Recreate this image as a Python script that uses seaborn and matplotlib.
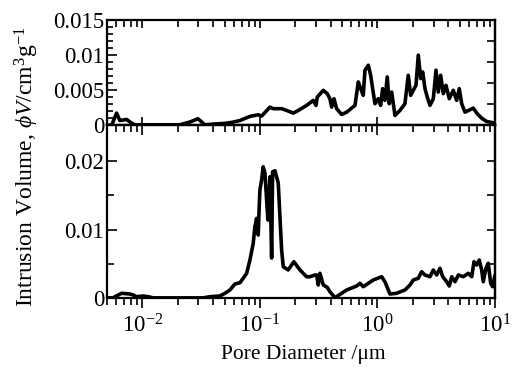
import numpy as np
import pandas as pd
import matplotlib
matplotlib.use("Agg")
import matplotlib.pyplot as plt
import seaborn as sns
from matplotlib.ticker import LogLocator, MultipleLocator, FixedLocator, NullFormatter, FormatStrFormatter

# ---- data (pore diameter in um, intrusion volume in cm3/g) ----
top_d = [0.00499, 0.0055, 0.00603, 0.00643, 0.00734, 0.0080, 0.00864, 0.0208, 0.0254,
         0.0297, 0.0340, 0.0398, 0.0504, 0.0589, 0.0676, 0.0822, 0.0967, 0.1033, 0.1216,
         0.1297, 0.153, 0.1687, 0.192, 0.212, 0.2496, 0.284, 0.2998, 0.3076, 0.346, 0.374,
         0.394, 0.408, 0.4266, 0.4497, 0.496, 0.547, 0.644, 0.687, 0.720, 0.757, 0.783,
         0.836, 0.875, 0.910, 0.953, 1.016, 1.064, 1.107, 1.158, 1.211, 1.259, 1.321,
         1.409, 1.553, 1.713, 1.828, 1.917, 2.017, 2.127, 2.225, 2.332, 2.425, 2.537,
         2.654, 2.798, 2.986, 3.147, 3.291, 3.449, 3.631, 3.827, 4.083, 4.416, 4.720,
         4.967, 5.207, 5.557, 6.536, 7.068, 7.702, 8.495, 9.68, 10.0]
top_v = [0.0, 0.0001, 0.00176, 0.00071, 0.00086, 0.0004, 0.0001, 0.0001, 0.0005,
         0.00096, 0.0001, 0.0002, 0.0003, 0.00047, 0.00071, 0.00129, 0.00153, 0.00133, 0.00261,
         0.00239, 0.00239, 0.00214, 0.00176, 0.00214, 0.00286, 0.00357, 0.00286, 0.00404, 0.0050, 0.00453,
         0.00381, 0.00261, 0.00381, 0.00239, 0.00157, 0.0019, 0.00286, 0.00619, 0.00524, 0.00429, 0.00786,
         0.00857, 0.00714, 0.00524, 0.0031, 0.00381, 0.00286, 0.00524, 0.00357, 0.0069, 0.0031, 0.00476,
         0.00143, 0.00214, 0.0031, 0.00714, 0.00429, 0.0050, 0.00571, 0.0100, 0.00667, 0.00761, 0.00524,
         0.00404, 0.00286, 0.00381, 0.00786, 0.00476, 0.00714, 0.00453, 0.00571, 0.00381, 0.0050, 0.00357,
         0.00524, 0.0031, 0.0019, 0.00247, 0.00167, 0.00104, 0.00057, 0.00039, 0.0004]

bot_d = [0.0050, 0.00564, 0.00665, 0.00783, 0.00835, 0.00893, 0.01016, 0.0112, 0.01236,
         0.0329, 0.0375, 0.0457, 0.0504, 0.0556, 0.0612, 0.0676, 0.0721, 0.0771, 0.0822,
         0.0877, 0.0906, 0.0937, 0.0967, 0.0986, 0.1000, 0.1033, 0.1066, 0.1104, 0.1140,
         0.1170, 0.1216, 0.1258, 0.1282, 0.1342, 0.1432, 0.148, 0.153, 0.158, 0.174, 0.1945,
         0.219, 0.2496, 0.2666, 0.294, 0.304, 0.3135, 0.324, 0.346, 0.374, 0.394, 0.435,
         0.547, 0.665, 0.710, 0.757, 0.836, 0.921, 1.086, 1.158, 1.277, 1.455, 1.713,
         1.892, 2.017, 2.225, 2.375, 2.537, 2.798, 2.986, 3.190, 3.405, 3.590, 3.882,
         4.083, 4.283, 4.571, 4.875, 5.375, 5.927, 6.337, 6.627, 6.985, 7.348, 7.702,
         7.943, 8.375, 8.761, 9.187, 9.553, 10.0]
bot_v = [0.0, 0.00004, 0.00069, 0.00058, 0.00044, 0.00019, 0.00029, 0.00019, 0.00002,
         0.00002, 0.00019, 0.00029, 0.00069, 0.00117, 0.00204, 0.00223, 0.00288, 0.00361, 0.00555,
         0.00799, 0.01041, 0.01164, 0.0092, 0.01333, 0.01577, 0.01723, 0.01917, 0.01821, 0.01431,
         0.01139, 0.0177, 0.00584, 0.01844, 0.01859, 0.01679, 0.01187, 0.00701, 0.00457, 0.0041, 0.0053,
         0.0041, 0.0031, 0.00311, 0.00336, 0.00336, 0.0019, 0.00361, 0.0019, 0.00156, 0.00092, 0.00005,
         0.00117, 0.00175, 0.00215, 0.00165, 0.00215, 0.00263, 0.00311, 0.00238, 0.00058, 0.00069, 0.00117,
         0.0019, 0.00263, 0.00288, 0.00384, 0.00336, 0.00311, 0.00409, 0.00336, 0.00434, 0.00311, 0.00238,
         0.00175, 0.00311, 0.00238, 0.00336, 0.00311, 0.00361, 0.00311, 0.0053, 0.00482, 0.00555, 0.00409,
         0.00238, 0.00434, 0.00507, 0.00215, 0.00165, 0.00336]

top_df = pd.DataFrame({"d": top_d, "v": top_v})
bot_df = pd.DataFrame({"d": bot_d, "v": bot_v})

sns.set_style("ticks")
plt.rcParams["font.family"] = ["Liberation Serif", "DejaVu Serif"]
plt.rcParams["mathtext.fontset"] = "custom"
plt.rcParams["mathtext.rm"] = "Liberation Serif"
plt.rcParams["mathtext.it"] = "Liberation Serif:italic"
plt.rcParams["mathtext.fallback"] = "stix"
for k in ("text.color", "axes.labelcolor", "xtick.color", "ytick.color", "axes.edgecolor"):
    plt.rcParams[k] = "black"

FS = 16.5
fig = plt.figure(figsize=(5.13, 3.68), dpi=100)
L, R = 107 / 513, 495 / 513
y_top, y_mid, y_bot = 1 - 20 / 368, 1 - 125.5 / 368, 1 - 298 / 368
ax1 = fig.add_axes([L, y_mid, R - L, y_top - y_mid])
ax2 = fig.add_axes([L, y_bot, R - L, y_mid - y_bot], sharex=ax1)

lw = 2.6
sns.lineplot(data=top_df, x="d", y="v", ax=ax1, color="black", lw=lw, estimator=None, sort=False)
sns.lineplot(data=bot_df, x="d", y="v", ax=ax2, color="black", lw=lw, estimator=None, sort=False)

for ax in (ax1, ax2):
    ax.set_xscale("log")
    ax.set_xlim(0.005, 10)
    for s in ax.spines.values():
        s.set_linewidth(1.6)
        s.set_visible(True)
    ax.set_xlabel("")
    ax.set_ylabel("")

ax1.set_ylim(0, 0.015)
ax2.set_ylim(0, 0.0252)

# top panel ticks
ax1.yaxis.set_major_locator(FixedLocator([0, 0.005, 0.01, 0.015]))
ax1.yaxis.set_minor_locator(MultipleLocator(0.001))
ax1.yaxis.set_major_formatter(FormatStrFormatter("%g"))
ax1.tick_params(axis="y", which="major", direction="in", length=7, width=1.2, left=True, right=False, labelsize=FS, pad=2)
ax1.tick_params(axis="y", which="minor", direction="in", length=4, width=1.2, left=True, right=False)
ax1.tick_params(axis="x", which="major", direction="in", length=6, width=1.2, top=True, bottom=True, labelbottom=False)
ax1.tick_params(axis="x", which="minor", direction="in", length=5, width=1.2, top=True, bottom=False)
sec = ax1.secondary_yaxis("right")
sec.set_yticks([0.003, 0.006, 0.009, 0.012])
sec.set_yticklabels([])
sec.tick_params(direction="in", length=6, width=1.2)
sec.spines["right"].set_linewidth(1.6)

# bottom panel ticks
ax2.yaxis.set_major_locator(FixedLocator([0, 0.01, 0.02]))
ax2.yaxis.set_minor_locator(FixedLocator([0.005, 0.015]))
ax2.yaxis.set_major_formatter(FormatStrFormatter("%g"))
ax2.tick_params(axis="y", which="major", direction="in", length=7, width=1.2, left=True, right=False, labelsize=FS, pad=2)
ax2.tick_params(axis="y", which="minor", direction="in", length=5, width=1.2, left=True, right=False)
sec2 = ax2.secondary_yaxis("right")
sec2.set_yticks([0.005, 0.01, 0.015, 0.02])
sec2.set_yticklabels([])
sec2.tick_params(direction="in", length=6, width=1.2)
sec2.spines["right"].set_linewidth(1.6)

ax2.xaxis.set_major_locator(LogLocator(base=10, numticks=10))
ax2.xaxis.set_minor_locator(LogLocator(base=10, subs=np.arange(2, 10), numticks=20))
ax2.xaxis.set_minor_formatter(NullFormatter())
ax2.tick_params(axis="x", which="major", direction="out", length=7, width=1.2, top=False, bottom=True, labelsize=FS, pad=5)
ax2.tick_params(axis="x", which="minor", direction="out", length=5, width=1.2, top=False, bottom=True)
# top edge of lower panel: inward ticks (drawn via secondary axis)
secx = ax2.secondary_xaxis("top")
secx.set_xscale("log")
secx.xaxis.set_major_locator(LogLocator(base=10, numticks=10))
secx.xaxis.set_minor_locator(LogLocator(base=10, subs=np.arange(2, 10), numticks=20))
secx.tick_params(axis="x", which="both", direction="in", labeltop=False)
secx.tick_params(axis="x", which="major", length=7, width=1.2)
secx.tick_params(axis="x", which="minor", length=5, width=1.2)
secx.spines["top"].set_linewidth(1.6)

fig.text(303 / 513, 1 - 355 / 368, "Pore Diameter /\u03bcm", ha="center", va="center", fontsize=15.5)
fig.text(27 / 513, 1 - 167 / 368, "Intrusion Volume, $\\phi V$/cm$^3$g$^{-1}$",
         ha="center", va="center", rotation=90, fontsize=17)

fig.savefig("out.png", dpi=100)
